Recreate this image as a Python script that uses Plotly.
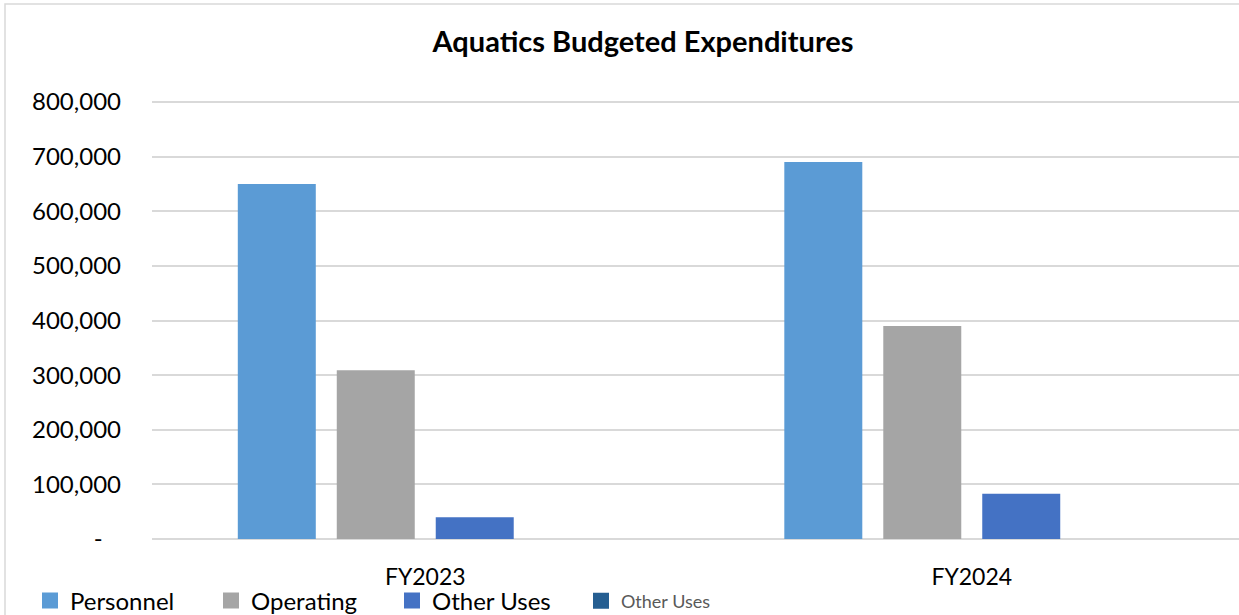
import plotly.graph_objects as go

# Budget data (USD)
years = ["FY2023", "FY2024"]
series_names = ["Personnel", "Operating", "Other Uses", "Other Uses"]
personnel = [650000, 690000]
operating = [309000, 390000]
other_uses = [40000, 83000]
other_uses_2 = [None, None]

colors = ["#5B9BD5", "#A5A5A5", "#4472C4", "#255E91"]
values = [personnel, operating, other_uses, other_uses_2]

tick_vals = [0, 100000, 200000, 300000, 400000, 500000, 600000, 700000, 800000]
tick_text = ["-\u00a0\u00a0\u00a0", "100,000", "200,000", "300,000", "400,000",
             "500,000", "600,000", "700,000", "800,000"]

W, H = 1239, 615
L, R, T, B = 152, 0, 100, 76
pw, ph = W - L - R, H - T - B
# leave a hair of room above the top gridline so it is drawn
y_top = 800000 * ph / (H - B - 102)


def px_x(x):
    return (x - L) / pw


def px_y(y):
    return (H - B - y) / ph


FONT = "Lato"
fig = go.Figure()

for name, vals, col in zip(series_names, values, colors):
    fig.add_trace(go.Bar(x=years, y=vals, name=name, marker_color=col,
                         marker_line_width=0, showlegend=False))

# legend entries with larger square swatches
for i, (name, col) in enumerate(zip(series_names, colors)):
    fig.add_trace(go.Scatter(
        x=[None], y=[None], mode="markers", name=name,
        marker=dict(symbol="square", size=16, color=col),
        legend="legend" if i < 3 else "legend2",
    ))

fig.update_layout(
    width=W, height=H,
    margin=dict(l=L, r=R, t=T, b=B, autoexpand=False),
    paper_bgcolor="white", plot_bgcolor="white",
    barmode="group", bargap=0.2756, bargroupgap=0.212,
    font=dict(family=FONT, size=24, color="#000000"),
    title=dict(text="<b>Aquatics Budgeted Expenditures</b>",
               x=643 / W, xanchor="center", y=1 - 42 / H, yanchor="middle",
               font=dict(family=FONT, size=29, color="#000000")),
    xaxis=dict(range=[-0.5, 1.489], showgrid=False, showline=False,
               zeroline=False, ticks="", ticklabelstandoff=22,
               tickfont=dict(size=23)),
    yaxis=dict(range=[0, y_top], tickvals=tick_vals, ticktext=tick_text,
               showgrid=True, gridcolor="#D9D9D9", gridwidth=1.5,
               zeroline=True, zerolinecolor="#D9D9D9", zerolinewidth=1.5,
               showline=False, ticks="",
               ticklabelstandoff=30, tickfont=dict(size=24)),
    legend=dict(orientation="h", x=px_x(30), xanchor="left",
                y=px_y(601), yanchor="middle",
                entrywidth=136, entrywidthmode="pixels",
                font=dict(size=24, color="#000000"),
                bgcolor="rgba(0,0,0,0)", itemclick=False),
    legend2=dict(orientation="h", x=px_x(581), xanchor="left",
                 y=px_y(601), yanchor="middle",
                 font=dict(size=18, color="#595959"),
                 bgcolor="rgba(0,0,0,0)", itemclick=False),
    shapes=[dict(type="rect", xref="paper", yref="paper",
                 x0=px_x(5), x1=px_x(1260), y0=px_y(4), y1=px_y(640),
                 line=dict(color="#D9D9D9", width=1.5), layer="below")],
)

fig.write_html("out.html")
